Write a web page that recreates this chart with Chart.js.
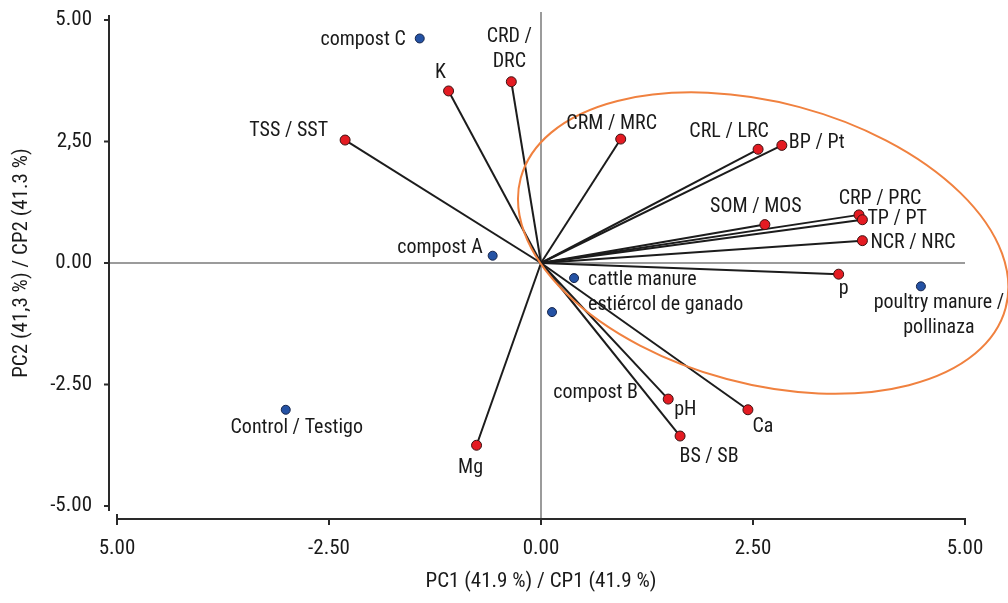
<!DOCTYPE html>
<html>
<head>
<meta charset="utf-8">
<script src="https://cdn.jsdelivr.net/npm/chart.js@4.4.1/dist/chart.umd.min.js"></script>
<style>
  html, body { margin: 0; padding: 0; background: #fff; }
</style>
</head>
<body>
<canvas id="pca" width="1008" height="603"></canvas>
<script>
/* ================= DATA ================= */
// variables (red, drawn as vectors from origin)
const varNames = ["TSS / SST", "K", "CRD /\nDRC", "CRM / MRC", "CRL / LRC", "BP / Pt",
  "SOM / MOS", "CRP / PRC", "TP / PT", "NCR / NRC", "p", "pH", "BS / SB", "Ca", "Mg"];
const varX = [-2.31, -1.09, -0.35, 0.94, 2.56, 2.84, 2.64, 3.75, 3.79, 3.79, 3.51, 1.50, 1.64, 2.44, -0.76];
const varY = [2.53, 3.54, 3.73, 2.55, 2.34, 2.42, 0.79, 0.99, 0.89, 0.46, -0.23, -2.80, -3.56, -3.02, -3.75];

// samples (blue)
const sampleNames = ["compost C", "compost A", "cattle manure\nestiércol de ganado", "compost B",
  "poultry manure /\npollinaza", "Control / Testigo"];
const sampleX = [-1.43, -0.57, 0.39, 0.13, 4.48, -3.01];
const sampleY = [4.62, 0.15, -0.31, -1.01, -0.48, -3.02];

const xTickValues = [-5, -2.5, 0, 2.5, 5];
const xTickLabels = ["5.00", "-2.50", "0.00", "2.50", "5.00"];
const yTickValues = [-5, -2.5, 0, 2.5, 5];
const yTickLabels = ["-5.00", "-2.50", "0.00", "2,50", "5.00"];

const xTitle = "PC1 (41.9 %) / CP1 (41.9 %)";
const yTitle = "PC2 (41,3 %) / CP2 (41.3 %)";

/* ================= LABEL PLACEMENT (px offsets from point) ================= */
const varLabelPos = [
  ["right", -17, -9], ["center", -8, -18], ["center", -2, -45], ["center", -9, -15],
  ["center", -29, -17], ["left", 7, -2], ["center", -9, -18], ["center", 21, -16],
  ["left", 5, -1], ["left", 8, 2], ["center", 5, 15], ["left", 6, 11],
  ["center", 29, 21], ["center", 15, 17], ["center", -6, 23]
];
const sampleLabelPos = [
  ["right", -14, 2], ["right", -10, -8], ["left", 14, 2], ["right", 86, 81],
  ["center", 18, 17], ["center", 11, 18]
];

const FONT = '"Liberation Sans Narrow", "Roboto Condensed", "DejaVu Sans Condensed", sans-serif';

/* ================= DATASETS ================= */
const vectorSets = varNames.map((n, i) => ({
  type: 'line',
  data: [{x: 0, y: 0}, {x: varX[i], y: varY[i]}],
  borderColor: '#1c1c1c',
  borderWidth: 2,
  pointRadius: 0,
  order: 3
}));

const varPoints = {
  type: 'scatter',
  data: varX.map((x, i) => ({x: x, y: varY[i]})),
  backgroundColor: '#e41b22',
  borderColor: '#3b1212',
  borderWidth: 1,
  pointRadius: 5,
  order: 1
};

const samplePoints = {
  type: 'scatter',
  data: sampleX.map((x, i) => ({x: x, y: sampleY[i]})),
  backgroundColor: '#2452a4',
  borderColor: '#16254a',
  borderWidth: 1,
  pointRadius: 4.5,
  order: 2
};

/* ================= PLUGINS ================= */
// axis frame + zero lines
const axisFrame = {
  id: 'axisFrame',
  beforeDatasetsDraw(chart) {
    const {ctx, scales: {x, y}} = chart;
    const x0 = x.getPixelForValue(0), y0 = y.getPixelForValue(0);
    const left = x.getPixelForValue(-5), right = x.getPixelForValue(5);
    const top = y.getPixelForValue(5), bottom = y.getPixelForValue(-5);
    const axX = left - 8;
    const axY = bottom + 13;
    ctx.save();
    ctx.strokeStyle = '#9b9b9b';
    ctx.lineWidth = 2;
    ctx.beginPath();
    ctx.moveTo(x0, top - 8); ctx.lineTo(x0, axY);
    ctx.moveTo(axX, y0); ctx.lineTo(right, y0);
    ctx.stroke();

    ctx.strokeStyle = '#2a2a2a';
    ctx.beginPath();
    ctx.moveTo(axX, top - 5); ctx.lineTo(axX, bottom + 5);
    yTickValues.forEach(v => {
      const p = y.getPixelForValue(v);
      ctx.moveTo(axX - 5, p); ctx.lineTo(axX + 1, p);
    });
    ctx.moveTo(left, axY - 5); ctx.lineTo(left, axY); ctx.lineTo(right, axY);
    xTickValues.forEach(v => {
      const p = x.getPixelForValue(v);
      ctx.moveTo(p, axY - 1); ctx.lineTo(p, axY + 6);
    });
    ctx.stroke();
    ctx.restore();
  }
};

// orange ellipse around the manure group
const ellipse = {
  id: 'ellipse',
  afterDatasetsDraw(chart) {
    const {ctx, scales: {x, y}} = chart;
    const unit = x.getPixelForValue(1) - x.getPixelForValue(0);
    ctx.save();
    ctx.strokeStyle = '#f0813f';
    ctx.lineWidth = 2;
    ctx.beginPath();
    ctx.ellipse(x.getPixelForValue(2.62), y.getPixelForValue(0.41),
      2.96 * unit, 1.66 * unit, 15 * Math.PI / 180, 0, Math.PI * 2);
    ctx.stroke();
    ctx.restore();
  }
};

// text labels next to the points
function drawLabels(ctx, x, y, names, xs, ys, pos) {
  names.forEach((name, i) => {
    const [align, dx, dy] = pos[i];
    const px = x.getPixelForValue(xs[i]) + dx;
    const py = y.getPixelForValue(ys[i]) + dy;
    ctx.textAlign = align;
    name.split("\n").forEach((line, k) => ctx.fillText(line, px, py + k * 25));
  });
}

const pointLabels = {
  id: 'pointLabels',
  afterDraw(chart) {
    const {ctx, scales: {x, y}} = chart;
    ctx.save();
    ctx.font = '20px ' + FONT;
    ctx.fillStyle = '#1a1a1a';
    ctx.textBaseline = 'middle';
    drawLabels(ctx, x, y, varNames, varX, varY, varLabelPos);
    drawLabels(ctx, x, y, sampleNames, sampleX, sampleY, sampleLabelPos);
    ctx.restore();
  }
};

/* ================= CHART ================= */
new Chart(document.getElementById('pca'), {
  data: { datasets: [...vectorSets, samplePoints, varPoints] },
  options: {
    responsive: false,
    animation: false,
    layout: { padding: { top: 20, right: 43, left: 0, bottom: 0 } },
    plugins: { legend: { display: false }, tooltip: { enabled: false } },
    scales: {
      x: {
        type: 'linear', min: -5, max: 5,
        afterFit: s => { s.height = 97; s.paddingLeft = 0; s.paddingRight = 0; },
        afterBuildTicks: s => { s.ticks = xTickValues.map(v => ({value: v})); },
        grid: { display: false },
        border: { display: false },
        ticks: {
          padding: 22,
          color: '#1a1a1a',
          font: { family: FONT, size: 21 },
          callback: v => xTickLabels[xTickValues.indexOf(v)]
        },
        title: {
          display: true, text: xTitle, color: '#1a1a1a',
          font: { family: FONT, size: 21 }, padding: { top: 0, bottom: 9 }
        }
      },
      y: {
        type: 'linear', min: -5, max: 5,
        afterFit: s => { s.width = 117; s.paddingTop = 0; s.paddingBottom = 0; },
        afterBuildTicks: s => { s.ticks = yTickValues.map(v => ({value: v})); },
        grid: { display: false },
        border: { display: false },
        ticks: {
          padding: 17,
          color: '#1a1a1a',
          font: { family: FONT, size: 21 },
          callback: v => yTickLabels[yTickValues.indexOf(v)]
        },
        title: {
          display: true, text: yTitle, color: '#1a1a1a',
          font: { family: FONT, size: 21 }, padding: { top: 9, bottom: 0 }
        }
      }
    }
  },
  plugins: [axisFrame, ellipse, pointLabels]
});
</script>
</body>
</html>
